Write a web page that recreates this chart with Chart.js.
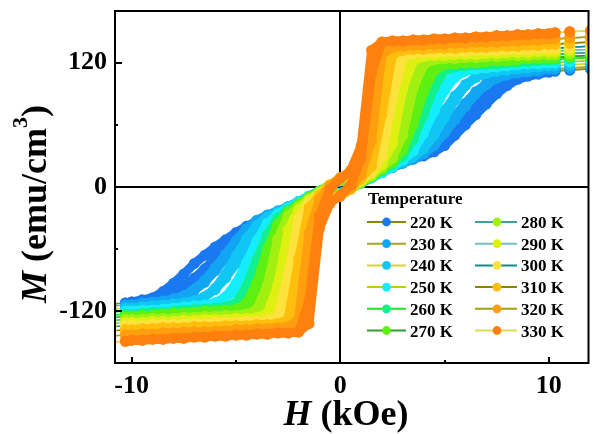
<!DOCTYPE html>
<html>
<head>
<meta charset="utf-8">
<script src="https://cdn.jsdelivr.net/npm/chart.js@4.4.0/dist/chart.umd.min.js"></script>
<style>
  html, body { margin: 0; padding: 0; background: #fff; }
  #wrap { width: 594px; height: 434px; }
</style>
</head>
<body>
<div id="wrap"><canvas id="chart" width="594" height="434"></canvas></div>
<script>
// field sweep (kOe): down from +12 to -11, then back up
const fieldDown = [12, 11, 10.3, 10, 9.5, 9, 8.5, 8, 7.5, 7, 6.5, 6, 5.5, 5, 4.5, 4, 3.5, 3, 2.5, 2, 1.5, 1, 0.5, 0,
  -0.5, -1, -1.5, -2, -2.5, -3, -3.5, -4, -4.5, -5, -5.5, -6, -6.5, -7, -7.5, -8, -8.5, -9, -9.5, -10, -10.3, -11];
const fieldUp = [-11, -10.3, -10, -9.5, -9, -8.5, -8, -7.5, -7, -6.5, -6, -5.5, -5, -4.5, -4, -3.5, -3, -2.5, -2, -1.5, -1, -0.5,
  0, 0.5, 1, 1.5, 2, 2.5, 3, 3.5, 4, 4.5, 5, 5.5, 6, 6.5, 7, 7.5, 8, 8.5, 9, 9.5, 10, 10.3, 11, 12];

// magnetization (emu/cm3)
const down220 = [114,113,112,111,110,108,105,101,95,88,79,69,59,49,41,36,32,28,24,20,16,12,9,6,1,-4,-9,-14,-19,-24,-29,-33,-38,-44,-51,-58,-66,-74,-84,-93,-101,-107,-109,-111,-112,-113];
const up220 = [-113,-112,-111,-110,-108,-105,-101,-95,-88,-79,-69,-59,-49,-41,-36,-32,-28,-24,-20,-16,-12,-9,-6,-1,4,9,14,19,23,27,30,34,40,50,60,70,80,90,98,104,107,109,111,112,113,114];
const down230 = [116,115,114,114,113,112,111,109,106,100,92,81,69,57,46,38,33,29,25,21,17,13,9,6,1,-4,-9,-14,-19,-23,-27,-32,-40,-52,-65,-78,-90,-99,-105,-108,-110,-111,-112,-114,-114,-115];
const up230 = [-115,-114,-114,-113,-112,-111,-109,-106,-100,-92,-81,-69,-57,-46,-38,-33,-29,-25,-21,-17,-13,-9,-6,-1,4,9,14,19,23,27,32,40,52,65,78,90,99,105,108,110,111,112,114,114,115,116];
const down240 = [119,118,117,117,116,115,114,113,112,110,106,99,88,74,58,45,36,30,25,21,17,13,9,6,1,-4,-9,-14,-19,-24,-29,-37,-50,-67,-84,-98,-106,-110,-112,-113,-114,-115,-116,-117,-117,-118];
const up240 = [-118,-117,-117,-116,-115,-114,-113,-112,-110,-106,-99,-88,-74,-58,-45,-36,-30,-25,-21,-17,-13,-9,-6,-1,4,9,14,19,24,29,37,50,67,84,98,106,110,112,113,114,115,116,117,117,118,119];
const down250 = [122,121,120,120,119,119,118,117,116,115,114,112,108,99,82,62,45,34,27,22,17,13,9,6,1,-4,-9,-14,-20,-26,-35,-52,-73,-93,-106,-112,-114,-115,-116,-117,-118,-119,-119,-120,-120,-121];
const up250 = [-121,-120,-120,-119,-119,-118,-117,-116,-115,-114,-112,-108,-99,-82,-62,-45,-34,-27,-22,-17,-13,-9,-6,-1,4,9,14,20,26,35,52,73,93,106,112,114,115,116,117,118,119,119,120,120,121,122];
const down260 = [125,124,123,123,122,121,121,120,119,118,118,117,116,113,104,84,60,40,29,23,18,14,10,7,2,-4,-10,-16,-22,-30,-46,-70,-96,-112,-116,-117,-118,-118,-119,-120,-121,-121,-122,-123,-123,-124];
const up260 = [-124,-123,-123,-122,-121,-121,-120,-119,-118,-118,-117,-116,-113,-104,-84,-60,-40,-29,-23,-18,-14,-10,-7,-2,4,10,16,22,30,46,70,96,112,116,117,118,118,119,120,121,121,122,123,123,124,125];
const down270 = [127,126,125,125,124,124,123,122,122,121,120,120,119,119,116,106,82,54,34,25,19,14,10,7,2,-4,-10,-17,-24,-36,-60,-92,-112,-118,-119,-120,-120,-121,-122,-122,-123,-124,-124,-125,-125,-126];
const up270 = [-126,-125,-125,-124,-124,-123,-122,-122,-121,-120,-120,-119,-119,-116,-106,-82,-54,-34,-25,-19,-14,-10,-7,-2,4,10,17,24,36,60,92,112,118,119,120,120,121,122,122,123,124,124,125,125,126,127];
const down280 = [130,129,128,128,128,127,127,127,126,126,125,125,124,124,123,122,110,75,42,27,20,15,11,7,2,-5,-11,-19,-28,-50,-95,-118,-123,-124,-124,-125,-125,-126,-126,-127,-127,-127,-128,-128,-128,-129];
const up280 = [-129,-128,-128,-128,-127,-127,-127,-126,-126,-125,-125,-124,-124,-123,-122,-110,-75,-42,-27,-20,-15,-11,-7,-2,5,11,19,28,50,95,118,123,124,124,125,125,126,126,127,127,127,128,128,128,129,130];
const down290 = [133,132,131,131,131,130,130,130,129,129,128,128,128,127,127,127,126,112,70,33,22,16,11,8,2,-6,-13,-22,-42,-95,-122,-126,-127,-127,-128,-128,-128,-129,-129,-130,-130,-130,-131,-131,-131,-132];
const up290 = [-132,-131,-131,-131,-130,-130,-130,-129,-129,-128,-128,-128,-127,-127,-127,-126,-112,-70,-33,-22,-16,-11,-8,-2,6,13,22,42,95,122,126,127,127,128,128,128,129,129,130,130,130,131,131,131,132,133];
const down300 = [136,135,134,134,134,133,133,133,132,132,132,131,131,131,130,130,130,129,112,55,26,18,12,8,2,-7,-15,-30,-85,-125,-129,-130,-130,-131,-131,-131,-132,-132,-132,-133,-133,-133,-134,-134,-134,-135];
const up300 = [-135,-134,-134,-134,-133,-133,-133,-132,-132,-132,-131,-131,-131,-130,-130,-130,-129,-112,-55,-26,-18,-12,-8,-2,7,15,30,85,125,129,130,130,131,131,131,132,132,132,133,133,133,134,134,134,135,136];
const down310 = [140,139,138,138,137,137,136,136,136,135,135,135,134,134,134,133,133,132,131,108,38,21,12,9,2,-8,-20,-70,-128,-132,-133,-133,-134,-134,-134,-135,-135,-135,-136,-136,-136,-137,-137,-138,-138,-139];
const up310 = [-139,-138,-138,-137,-137,-136,-136,-136,-135,-135,-135,-134,-134,-134,-133,-133,-132,-131,-108,-38,-21,-12,-9,-2,8,20,70,128,132,133,133,134,134,134,135,135,135,136,136,136,137,137,138,138,139,140];
const down320 = [145,144,143,143,142,142,141,141,140,140,140,139,139,138,138,137,137,136,135,133,95,28,13,9,1,-12,-45,-128,-135,-136,-137,-137,-138,-138,-139,-139,-140,-140,-140,-141,-141,-142,-142,-143,-143,-144];
const up320 = [-144,-143,-143,-142,-142,-141,-141,-140,-140,-140,-139,-139,-138,-138,-137,-137,-136,-135,-133,-95,-28,-13,-9,-1,12,45,128,135,136,137,137,138,138,139,139,140,140,140,141,141,142,142,143,143,144,145];
const down330 = [151,150,149,148,148,147,147,146,146,145,145,144,144,143,143,142,142,141,141,140,132,40,16,8,-2,-28,-110,-140,-141,-141,-142,-142,-143,-143,-144,-144,-145,-145,-146,-146,-147,-147,-148,-148,-149,-150];
const up330 = [-150,-149,-148,-148,-147,-147,-146,-146,-145,-145,-144,-144,-143,-143,-142,-142,-141,-141,-140,-132,-40,-16,-8,2,28,110,140,141,141,142,142,143,143,144,144,145,145,146,146,147,147,148,148,149,150,151];

const temps = [220, 230, 240, 250, 260, 270, 280, 290, 300, 310, 320, 330];
const downs = [down220, down230, down240, down250, down260, down270, down280, down290, down300, down310, down320, down330];
const ups = [up220, up230, up240, up250, up260, up270, up280, up290, up300, up310, up320, up330];
const markerColors = ['#1a78f0', '#12a6f2', '#10c6f2', '#14eefc', '#12f08e', '#5ef012',
  '#a2f012', '#def012', '#ffe23e', '#ffbe0e', '#ff9e0e', '#ff800e'];
const lineColors = ['#888810', '#a8a41e', '#d8d430', '#b8d010', '#22e022', '#2e9e2e',
  '#3ea0a0', '#70c0c0', '#108e8e', '#868600', '#a0a010', '#e0dc50'];

const xTicks = [-10, -5, 0, 5, 10];
const xLabels = [-10, 0, 10];
const yTicks = [-120, -60, 0, 60, 120];
const yLabels = [-120, 0, 120];

const SERIF = '"Liberation Serif", "Times New Roman", serif';
Chart.defaults.font.family = SERIF;
Chart.defaults.color = '#000';

function isTail(ctx) {
  const d = ctx.chart.data.datasets[ctx.datasetIndex].data;
  return Math.abs(d[ctx.p0DataIndex].x) > 10.31 || Math.abs(d[ctx.p1DataIndex].x) > 10.31;
}

const datasets = temps.map((t, i) => {
  const pts = fieldDown.map((h, k) => ({ x: h, y: downs[i][k] }))
    .concat(fieldUp.map((h, k) => ({ x: h, y: ups[i][k] })));
  return {
    label: t + ' K',
    data: pts,
    order: temps.length - 1 - i,
    showLine: true,
    tension: 0,
    borderColor: markerColors[i],
    borderWidth: 9,
    borderJoinStyle: 'round',
    borderCapStyle: 'round',
    pointRadius: 5.5,
    pointBackgroundColor: markerColors[i],
    pointBorderWidth: 0,
    segment: {
      borderWidth: ctx => isTail(ctx) ? 1.5 : 9,
      borderColor: ctx => isTail(ctx) ? lineColors[i] : markerColors[i]
    }
  };
});

function drawFancy(ctx, parts, x, y) {
  let cx = x;
  parts.forEach(p => {
    ctx.font = p.font;
    ctx.fillText(p.text, cx, y - (p.rise || 0));
    cx += ctx.measureText(p.text).width;
  });
}
function fancyWidth(ctx, parts) {
  return parts.reduce((w, p) => { ctx.font = p.font; return w + ctx.measureText(p.text).width; }, 0);
}

const framePlugin = {
  id: 'frame',
  beforeDatasetsDraw(chart) {
    const { ctx, chartArea: a, scales: { x, y } } = chart;
    ctx.save();
    ctx.strokeStyle = '#000';
    ctx.lineWidth = 2;
    ctx.beginPath();
    const x0 = Math.round(x.getPixelForValue(0));
    const y0 = Math.round(y.getPixelForValue(0));
    ctx.moveTo(x0, a.top); ctx.lineTo(x0, a.bottom);
    ctx.moveTo(a.left, y0); ctx.lineTo(a.right, y0);
    ctx.stroke();
    ctx.restore();
  },
  afterDatasetsDraw(chart) {
    const { ctx, chartArea: a, scales: { x, y } } = chart;
    ctx.save();
    ctx.strokeStyle = '#000';
    ctx.lineWidth = 2;
    ctx.strokeRect(a.left, a.top, a.right - a.left, a.bottom - a.top);
    ctx.beginPath();
    xTicks.forEach(v => {
      const px = Math.round(x.getPixelForValue(v));
      const len = xLabels.includes(v) ? 6 : 3;
      ctx.moveTo(px, a.bottom); ctx.lineTo(px, a.bottom - len);
    });
    yTicks.forEach(v => {
      const py = Math.round(y.getPixelForValue(v));
      const len = yLabels.includes(v) ? 7 : 3;
      ctx.moveTo(a.left, py); ctx.lineTo(a.left + len, py);
    });
    ctx.stroke();

    // legend
    ctx.fillStyle = '#000';
    ctx.textAlign = 'left';
    ctx.textBaseline = 'alphabetic';
    ctx.font = 'bold 17px ' + SERIF;
    ctx.fillText('Temperature', 368, 204);
    temps.forEach((t, i) => {
      const col = i < 6 ? 0 : 1;
      const row = i % 6;
      const ry = 222 + row * 21.7;
      const x1 = col ? 475 : 367;
      const x2 = col ? 517 : 406;
      const dx = col ? 497 : 386.5;
      const tx = col ? 521 : 410;
      ctx.strokeStyle = lineColors[i];
      ctx.lineWidth = 2;
      ctx.beginPath(); ctx.moveTo(x1, ry); ctx.lineTo(x2, ry); ctx.stroke();
      ctx.fillStyle = markerColors[i];
      ctx.beginPath(); ctx.arc(dx, ry, 4.4, 0, Math.PI * 2); ctx.fill();
      ctx.fillStyle = '#000';
      ctx.fillText(t + ' K', tx, ry + 6);
    });
    ctx.restore();
  },
  afterDraw(chart) {
    const { ctx } = chart;
    ctx.save();
    ctx.fillStyle = '#000';
    ctx.textBaseline = 'alphabetic';
    ctx.textAlign = 'left';
    const xt = [
      { text: 'H', font: 'italic bold 36px ' + SERIF },
      { text: ' (kOe)', font: 'bold 36px ' + SERIF }
    ];
    drawFancy(ctx, xt, 346 - fancyWidth(ctx, xt) / 2, 425);

    const yt = [
      { text: 'M', font: 'italic bold 36px ' + SERIF },
      { text: ' (emu/cm', font: 'bold 36px ' + SERIF },
      { text: '3', font: 'bold 22px ' + SERIF, rise: 19 },
      { text: ')', font: 'bold 36px ' + SERIF }
    ];
    ctx.translate(46, 204);
    ctx.rotate(-Math.PI / 2);
    drawFancy(ctx, yt, -fancyWidth(ctx, yt) / 2, 0);
    ctx.restore();
  }
};

new Chart(document.getElementById('chart'), {
  type: 'scatter',
  data: { datasets },
  options: {
    responsive: false,
    animation: false,
    events: [],
    layout: { padding: { top: 11, right: 3, left: 0, bottom: 0 } },
    plugins: { legend: { display: false }, tooltip: { enabled: false } },
    scales: {
      x: {
        type: 'linear', min: -10.8, max: 11.9,
        afterBuildTicks: s => { s.ticks = xTicks.map(v => ({ value: v })); },
        afterFit: s => { s.height = 71; s.paddingLeft = 0; s.paddingRight = 0; },
        grid: { display: false, drawTicks: false },
        border: { display: false },
        ticks: {
          padding: 8, maxRotation: 0, autoSkip: false, color: '#000',
          font: { family: SERIF, size: 26, weight: 'bold' },
          callback: v => xLabels.includes(v) ? String(v) : ''
        }
      },
      y: {
        type: 'linear', min: -170, max: 170,
        afterBuildTicks: s => { s.ticks = yTicks.map(v => ({ value: v })); },
        afterFit: s => { s.width = 115; s.paddingTop = 0; s.paddingBottom = 0; },
        grid: { display: false, drawTicks: false },
        border: { display: false },
        ticks: {
          padding: 8, autoSkip: false, color: '#000',
          font: { family: SERIF, size: 26, weight: 'bold' },
          callback: v => yLabels.includes(v) ? String(v) : ''
        }
      }
    }
  },
  plugins: [framePlugin]
});
</script>
</body>
</html>
